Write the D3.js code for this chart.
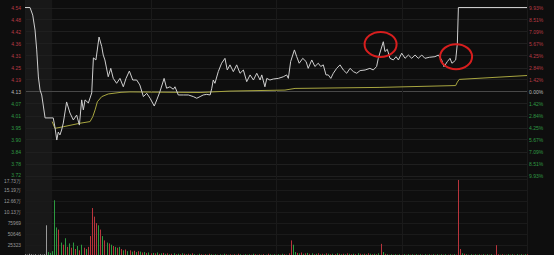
<!DOCTYPE html>
<html><head><meta charset="utf-8">
<script src="https://cdn.jsdelivr.net/npm/d3@7"></script>
<style>
html,body{margin:0;padding:0;background:#0d0d0d;}
svg{display:block;}
text{font-family:"Liberation Sans",Arial,sans-serif;}
</style></head>
<body>
<svg id="c" width="554" height="255"></svg>
<script>
// ---------- data ----------
const prevClose = 4.13;
const limitPct = 0.0993;
const priceLabels = ["4.54","4.48","4.42","4.36","4.31","4.25","4.19","4.13","4.07","4.01","3.95","3.90","3.84","3.78","3.72"];
const pctLabels = ["9.93%","8.51%","7.09%","5.67%","4.25%","2.84%","1.42%","0.00%","1.42%","2.84%","4.25%","5.67%","7.09%","8.51%","9.93%"];
const volLabels = ["17.73万","15.19万","12.66万","10.13万","75969","50646","25323"];
const volTicks = [177261,151938,126615,101292,75969,50646,25323];

// price line (minute, price)
const priceMin = [0,2.4,3.7,4.8,5.6,6.4,7.2,8.0,9.6,13.5,14.3,15.2,15.9,16.7,17.5,18.3,19.9,21.5,23.1,24.7,26.0,27.1,27.9,28.7,30.3,31.9,32.7,33.9,35.4,36.7,37.4,38.2,39.8,41.0,42.2,43.8,45.4,47.0,48.3,49.9,51.5,53.4,54.9,56.6,58.2,59.8,61.8,63.0,64.5,66.5,67.7,69.3,70.9,71.7,73.3,75.7,78.1,80.5,82.1,83.7,85.2,86.9,88.5,89.3,90.0,90.8,92.4,94.0,95.6,96.7,98.0,99.6,101.2,102.8,104.4,106.0,107.6,109.2,110.8,112.4,113.2,114.7,115.6,117.1,118.7,121.1,123.5,125.1,125.9,127.0,128.8,129.9,131.1,132.8,134.4,135.4,137.1,138.6,140.2,141.4,142.6,143.9,145.0,146.2,147.4,149.0,150.6,152.2,153.8,155.4,157.0,158.6,160.2,162.6,164.9,166.5,168.1,168.9,171.3,172.1,173.2,174.5,176.1,177.4,178.5,180.1,181.7,183.3,184.9,186.5,188.0,189.7,191.2,193.3,196.0,197.6,199.2,200.3,201.9,203.2,204.1,205.1,205.9,206.7,207.2,240];
const priceVal = [4.54,4.54,4.503,4.430,4.333,4.201,4.137,4.113,4.001,4.001,3.957,3.893,3.932,3.918,3.942,3.976,4.079,4.025,3.991,4.015,3.966,4.089,4.040,4.089,4.074,4.123,4.294,4.284,4.396,4.349,4.308,4.284,4.202,4.243,4.194,4.170,4.194,4.153,4.194,4.230,4.186,4.186,4.162,4.105,4.121,4.097,4.059,4.089,4.129,4.194,4.146,4.153,4.141,4.153,4.113,4.113,4.113,4.105,4.097,4.105,4.113,4.116,4.113,4.146,4.186,4.170,4.227,4.268,4.292,4.235,4.260,4.227,4.260,4.219,4.235,4.178,4.211,4.186,4.219,4.186,4.211,4.153,4.194,4.186,4.191,4.194,4.202,4.211,4.194,4.276,4.333,4.300,4.268,4.292,4.276,4.243,4.284,4.252,4.268,4.252,4.260,4.211,4.211,4.194,4.219,4.243,4.260,4.235,4.219,4.243,4.227,4.219,4.232,4.235,4.243,4.235,4.252,4.292,4.373,4.325,4.336,4.292,4.284,4.300,4.284,4.317,4.292,4.308,4.292,4.308,4.292,4.308,4.292,4.297,4.300,4.308,4.284,4.251,4.276,4.292,4.268,4.276,4.284,4.365,4.54,4.54];

// average price line (minute, price)
const avgMin = [13.0,14.3,18.3,26.3,31.1,32.4,33.5,34.6,36.7,39.8,45.9,50.2,83.7,98.0,124.3,129.1,169.7,205.9,206.7,207.6,240];
const avgVal = [3.983,3.950,3.958,3.975,3.983,4.007,4.040,4.080,4.105,4.118,4.126,4.128,4.125,4.132,4.137,4.145,4.150,4.159,4.176,4.189,4.208];

// volume per minute (0..240) and direction (1 up/red, -1 down/green, 0 flat)
const volumes = [
3000,2000,4000,3000,2000,3000,2000,3000,2000,3000,
70000,8000,6000,10000,128000,65000,60000,30000,25000,40000,
20000,28000,18000,30000,15000,22000,12000,25000,18000,15000,
20000,45000,110000,90000,75000,70000,60000,45000,35000,30000,
28000,25000,22000,20000,18000,20000,15000,12000,14000,10000,
12000,9000,11000,8000,10000,9000,7000,8000,6000,7000,
5000,6000,5000,7000,4000,5000,6000,4000,5000,3000,
4000,5000,3000,4000,3000,5000,4000,3000,4000,3000,
5000,3000,2000,4000,3000,2000,3000,2000,4000,3000,
2000,3000,2000,3000,2000,4000,3000,2000,3000,2000,
3000,2000,4000,3000,2000,3000,2000,3000,2000,4000,
3000,2000,3000,2000,3000,2000,4000,3000,2000,3000,
2000,3000,2000,4000,3000,2000,5000,35000,25000,8000,
6000,5000,7000,4000,5000,6000,4000,5000,3000,4000,
5000,3000,4000,3000,5000,4000,3000,4000,3000,5000,
4000,3000,4000,3000,5000,4000,3000,4000,3000,5000,
4000,3000,4000,3000,5000,4000,3000,4000,3000,5000,
27000,8000,4000,3000,2000,3000,2000,3000,2000,3000,
2000,3000,2000,3000,2000,3000,2000,3000,2000,3000,
2000,3000,2000,3000,2000,3000,2000,3000,2000,3000,
2000,3000,2000,3000,2000,3000,2000,175000,15000,5000,
4000,3000,2000,3000,2000,3000,2000,3000,2000,3000,
2000,3000,2000,3000,2000,24000,3000,2000,3000,2000,
2000,3000,2000,3000,2000,3000,2000,3000,2000,3000,
3000];
const volDir = [
0,0,0,0,0,0,0,0,0,0,
0,-1,-1,-1,-1,-1,1,-1,1,-1,
1,-1,1,-1,1,-1,1,-1,1,-1,
1,1,1,1,1,-1,1,-1,1,-1,
1,-1,1,-1,1,-1,1,-1,1,-1,
1,-1,1,-1,1,-1,1,-1,1,-1,
1,-1,1,-1,1,-1,1,-1,1,-1,
1,-1,1,-1,1,-1,1,-1,1,-1,
1,-1,1,-1,1,-1,1,-1,1,-1,
1,-1,1,-1,1,-1,1,-1,1,-1,
1,-1,1,-1,1,-1,1,-1,1,-1,
1,-1,1,-1,1,-1,1,-1,1,-1,
1,-1,1,-1,1,-1,1,1,-1,-1,
1,-1,1,-1,1,-1,1,-1,1,-1,
1,-1,1,-1,1,-1,1,-1,1,-1,
1,-1,1,-1,1,-1,1,-1,1,-1,
1,-1,1,-1,1,-1,1,-1,1,-1,
1,-1,1,-1,1,-1,1,-1,1,-1,
1,-1,1,-1,1,-1,1,-1,1,-1,
1,-1,1,-1,1,-1,1,-1,1,-1,
1,-1,1,-1,1,-1,1,1,1,-1,
1,-1,1,-1,1,-1,1,-1,1,-1,
1,-1,1,-1,1,1,1,-1,1,-1,
1,-1,1,-1,1,-1,1,-1,1,-1,
1];

// highlight circles (minute, price)
const marks = [{m:170.0, p:4.360},{m:206.1, p:4.300}];

// ---------- drawing ----------
const svg = d3.select("#c");
const W = 554, H = 255;
const left = 25, right = 527;
const x = d3.scaleLinear().domain([0,240]).range([left,right]);
const y = d3.scaleLinear().domain([prevClose*(1-limitPct), prevClose*(1+limitPct)]).range([175.5,7.5]);
const yv = d3.scaleLinear().domain([0,177261]).range([255.5,179]);

svg.append("rect").attr("width",W).attr("height",H).attr("fill","#0e0e0e");
// left shaded band
svg.append("rect").attr("x",x(0)).attr("y",0).attr("width",x(13)-x(0)).attr("height",H).attr("fill","#181818");

const tickPrices = d3.range(7,-8,-1).map(k => prevClose*(1+limitPct*k/7));

// horizontal grid price
svg.append("g").selectAll("line").data(tickPrices).join("line")
  .attr("x1",left).attr("x2",right)
  .attr("y1",d=>Math.round(y(d))+0.5).attr("y2",d=>Math.round(y(d))+0.5)
  .attr("stroke",(d,i)=> i===7 ? "#484848" : "#1f1f1f")
  .attr("stroke-width",1);
// vertical grid
const vTicks = [0,60,120,180,240];
svg.append("g").selectAll("line").data(vTicks).join("line")
  .attr("x1",d=>Math.round(x(d))+0.5).attr("x2",d=>Math.round(x(d))+0.5)
  .attr("y1",0).attr("y2",H).attr("stroke","#1a1a1a");
// volume grid
svg.append("g").selectAll("line").data(volTicks).join("line")
  .attr("x1",left).attr("x2",right)
  .attr("y1",d=>Math.round(yv(d))+0.5).attr("y2",d=>Math.round(yv(d))+0.5)
  .attr("stroke","#1a1a1a");

// left price labels
svg.append("g").selectAll("text").data(tickPrices).join("text")
  .attr("x",21).attr("y",(d,i)=>y(d)+ (i===14 ? 1 : 2)).attr("text-anchor","end")
  .attr("font-size",5)
  .attr("fill",(d,i)=> i<7 ? "#b83a44" : i===7 ? "#bbbbbb" : "#2f9a44")
  .text((d,i)=>priceLabels[i]);
// right pct labels
svg.append("g").selectAll("text").data(tickPrices).join("text")
  .attr("x",529).attr("y",d=>y(d)+2).attr("text-anchor","start")
  .attr("font-size",5)
  .attr("fill",(d,i)=> i<7 ? "#b83a44" : i===7 ? "#bbbbbb" : "#2f9a44")
  .text((d,i)=>pctLabels[i]);
// volume labels
svg.append("g").selectAll("text").data(volTicks).join("text")
  .attr("x",21).attr("y",(d,i)=>yv(d)+ (i===0 ? 3.5 : 2)).attr("text-anchor","end")
  .attr("font-size",4.8).attr("fill","#9a9a9a")
  .text((d,i)=>volLabels[i]);

// volume bars
svg.append("g").selectAll("line").data(volumes).join("line")
  .attr("x1",(d,i)=>Math.round(x(i))+0.5).attr("x2",(d,i)=>Math.round(x(i))+0.5)
  .attr("y1",yv(0)).attr("y2",d=>yv(d))
  .attr("stroke",(d,i)=> volDir[i]>0 ? "#b8343c" : volDir[i]<0 ? "#2c9a40" : "#9a9a9a")
  .attr("stroke-width",1);

// avg line
const avgData = avgMin.map((m,i)=>[m,avgVal[i]]);
svg.append("path").datum(avgData)
  .attr("d",d3.line().x(d=>x(d[0])).y(d=>y(d[1])))
  .attr("fill","none").attr("stroke","#a8a640").attr("stroke-width",1);

// price line
const pData = priceMin.map((m,i)=>[m,priceVal[i]]);
svg.append("path").datum(pData)
  .attr("d",d3.line().x(d=>x(d[0])).y(d=>y(d[1])))
  .attr("fill","none").attr("stroke","#cfcfcf").attr("stroke-width",1);

// red circles
svg.append("g").selectAll("ellipse").data(marks).join("ellipse")
  .attr("cx",d=>x(d.m)).attr("cy",d=>y(d.p))
  .attr("rx",16).attr("ry",12.5)
  .attr("fill","none").attr("stroke","#d81e1e").attr("stroke-width",2);
</script>
</body></html>
